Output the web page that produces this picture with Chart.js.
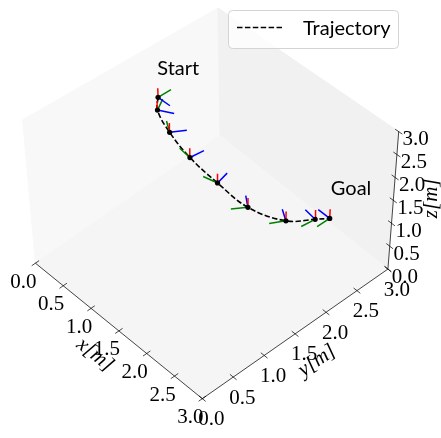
<!DOCTYPE html>
<html><head><meta charset="utf-8">
<script src="https://cdn.jsdelivr.net/npm/chart.js@4.4.0/dist/chart.umd.min.js"></script>
<style>html,body{margin:0;padding:0;background:#fff;}#wrap{width:441px;height:438px;}</style>
</head><body><div id="wrap"><canvas id="c" width="441" height="438"></canvas></div>
<script>
// ---------- data (3D, metres) ----------
const trajX = [0.42, 0.55, 0.84, 1.17, 1.53, 1.90, 2.20, 2.35, 2.44];
const trajY = [1.68, 1.55, 1.47, 1.48, 1.58, 1.72, 2.05, 2.38, 2.53];
const trajZ = [2.50, 2.45, 2.30, 2.05, 1.75, 1.45, 1.15, 1.03, 1.00];
const frameYawDeg = [0, 30, 58, 84, 104, 145, 150, 173, 180];
const frameAxisLen = [0.2, 0.2, 0.2];          // body x (blue), y (green), z (red)
const axisTicks = [0, 0.5, 1.0, 1.5, 2.0, 2.5, 3.0];
const tickLabels = ['0.0', '0.5', '1.0', '1.5', '2.0', '2.5', '3.0'];
const axisTitles = ['x[m]', 'y[m]', 'z[m]'];
const markerText = ['Start', 'Goal'];
const markerIndex = [0, 8];
const markerLift = [0.5, 0.5];
const seriesName = 'Trajectory';
const axisLimits = [0, 3];

// ---------- view calibration (screen position of the box corners) ----------
const VIEW = {
  c000: [32, 264], c100: [202, 402], c110: [391, 270], c010: [220, 134],
  c001: [19, 118], c101: [201, 247], c111: [402, 130], c011: [218, 4]
};
function proj(x, y, z) {
  const span = axisLimits[1] - axisLimits[0];
  const u = (x - axisLimits[0]) / span, v = (y - axisLimits[0]) / span, w = (z - axisLimits[0]) / span;
  const bil = (a, b, c, d, k) => (1 - u) * (1 - v) * a[k] + u * (1 - v) * b[k] + (1 - u) * v * c[k] + u * v * d[k];
  const V = VIEW;
  const bx = bil(V.c000, V.c100, V.c010, V.c110, 0), by = bil(V.c000, V.c100, V.c010, V.c110, 1);
  const tx = bil(V.c001, V.c101, V.c011, V.c111, 0), ty = bil(V.c001, V.c101, V.c011, V.c111, 1);
  return { x: bx + (tx - bx) * w, y: by + (ty - by) * w };
}

// ---------- build datasets ----------
const pts = trajX.map((x, i) => proj(x, trajY[i], trajZ[i]));
function segs(list) { // list of [p,q] pairs of 3D points
  const out = [];
  list.forEach(([a, b]) => { const p = proj(...a), q = proj(...b); out.push(p, q, { x: p.x, y: null }); });
  return out;
}
const blueSegs = [], greenSegs = [], redSegs = [];
trajX.forEach((x, i) => {
  const y = trajY[i], z = trajZ[i], t = frameYawDeg[i] * Math.PI / 180;
  blueSegs.push([[x, y, z], [x + Math.cos(t) * frameAxisLen[0], y + Math.sin(t) * frameAxisLen[0], z]]);
  greenSegs.push([[x, y, z], [x - Math.sin(t) * frameAxisLen[1], y + Math.cos(t) * frameAxisLen[1], z]]);
  redSegs.push([[x, y, z], [x, y, z + frameAxisLen[2]]]);
});
const lo = axisLimits[0], hi = axisLimits[1], tk = 0.06;
const axisLines = segs([[[lo, lo, lo], [hi, lo, lo]], [[hi, lo, lo], [hi, hi, lo]], [[hi, hi, lo], [hi, hi, hi]]]);
const tickSegs = segs([
  ...axisTicks.map(t => [[t, lo - tk, lo], [t, lo + tk, lo]]),
  ...axisTicks.map(t => [[hi - tk, t, lo], [hi + tk, t, lo]]),
  ...axisTicks.map(t => [[hi - tk, hi, t], [hi + tk, hi, t]])
]);

const lineDs = (data, color, w, extra) => Object.assign({ data, showLine: true, borderColor: color, borderWidth: w, pointRadius: 0, spanGaps: false, tension: 0, fill: false }, extra || {});
const datasets = [
  { data: pts, showLine: false, pointRadius: 2.6, pointBackgroundColor: '#000', pointBorderWidth: 0 },
  lineDs(segs(redSegs), '#ff0000', 1.5),
  lineDs(segs(blueSegs), '#0000ff', 1.5),
  lineDs(segs(greenSegs), '#008000', 1.5),
  lineDs(pts, '#000', 1.6, { borderDash: [5.5, 2.4], tension: 0.4, label: seriesName }),
  lineDs(tickSegs, 'rgba(0,0,0,0.8)', 0.9),
  lineDs(axisLines, 'rgba(0,0,0,0.8)', 0.9)
];

// ---------- plugins ----------
const panePlugin = {
  id: 'panes',
  beforeDatasetsDraw(chart) {
    const c = chart.ctx, sx = chart.scales.x, sy = chart.scales.y;
    const poly = (corners, fill) => {
      c.beginPath();
      corners.forEach((p3, i) => { const p = proj(...p3); const X = sx.getPixelForValue(p.x), Y = sy.getPixelForValue(p.y); i ? c.lineTo(X, Y) : c.moveTo(X, Y); });
      c.closePath(); c.fillStyle = fill; c.fill(); c.strokeStyle = fill; c.lineWidth = 1; c.stroke();
    };
    c.save();
    poly([[lo, lo, lo], [lo, hi, lo], [lo, hi, hi], [lo, lo, hi]], '#f8f8f8');
    poly([[lo, hi, lo], [hi, hi, lo], [hi, hi, hi], [lo, hi, hi]], '#f1f1f1');
    poly([[lo, lo, lo], [hi, lo, lo], [hi, hi, lo], [lo, hi, lo]], '#f5f5f5');
    c.restore();
  }
};
const textPlugin = {
  id: 'texts',
  afterDatasetsDraw(chart) {
    const c = chart.ctx, sx = chart.scales.x, sy = chart.scales.y;
    const px = p => ({ x: sx.getPixelForValue(p.x), y: sy.getPixelForValue(p.y) });
    c.save();
    c.fillStyle = '#000';
    // tick labels
    c.font = '21px "Liberation Serif"'; c.textAlign = 'center'; c.textBaseline = 'middle';
    axisTicks.forEach((t, i) => {
      let p = px(proj(t, lo, lo)); c.fillText(tickLabels[i], p.x - 12, p.y + 19);
      p = px(proj(hi, t, lo)); c.fillText(tickLabels[i], p.x + 9, p.y + 21);
      p = px(proj(hi, hi, t)); c.fillText(tickLabels[i], p.x + 17, p.y + 8);
    });
    // axis titles
    c.font = 'italic 21px "Liberation Serif"';
    const mid = (lo + hi) / 2;
    const titles = [
      [proj(lo, lo, lo), proj(hi, lo, lo), proj(mid, lo, lo), -24, 24],
      [proj(hi, lo, lo), proj(hi, hi, lo), proj(hi, mid, lo), 22, 27],
      [proj(hi, hi, lo), proj(hi, hi, hi), proj(hi, hi, mid), 38, -2]
    ];
    titles.forEach(([a, b, m, dx, dy], i) => {
      const A = px(a), B = px(b), M = px(m);
      let ang = Math.atan2(B.y - A.y, B.x - A.x);
      if (i === 2) ang = -Math.PI / 2;
      c.save(); c.translate(M.x + dx, M.y + dy); c.rotate(ang); c.fillText(axisTitles[i], 0, 0); c.restore();
    });
    // Start / Goal
    c.font = '20px Lato'; c.textAlign = 'left'; c.textBaseline = 'alphabetic';
    markerText.forEach((t, k) => {
      const i = markerIndex[k];
      const p = px(proj(trajX[i], trajY[i], trajZ[i] + markerLift[k]));
      c.fillText(t, p.x, p.y);
    });
    // legend
    const L = { x: 228, y: 10, w: 170, h: 38, r: 4 };
    c.beginPath();
    c.roundRect(L.x + 0.5, L.y + 0.5, L.w, L.h, L.r);
    c.fillStyle = 'rgba(255,255,255,0.8)'; c.fill();
    c.strokeStyle = '#d4d4d4'; c.lineWidth = 1; c.stroke();
    c.beginPath(); c.setLineDash([5.5, 2.4]); c.strokeStyle = '#000'; c.lineWidth = 1.6;
    c.moveTo(237, 27.5); c.lineTo(282, 27.5); c.stroke(); c.setLineDash([]);
    c.fillStyle = '#000'; c.font = '20px Lato'; c.fillText(seriesName, 303, 35);
    c.restore();
  }
};

new Chart(document.getElementById('c'), {
  type: 'scatter',
  data: { datasets },
  options: {
    responsive: false, animation: false, events: [],
    layout: { padding: 0 },
    plugins: { legend: { display: false }, tooltip: { enabled: false } },
    scales: {
      x: { type: 'linear', min: 0, max: 441, display: false },
      y: { type: 'linear', min: 0, max: 438, reverse: true, display: false }
    }
  },
  plugins: [panePlugin, textPlugin]
});
</script></body></html>
